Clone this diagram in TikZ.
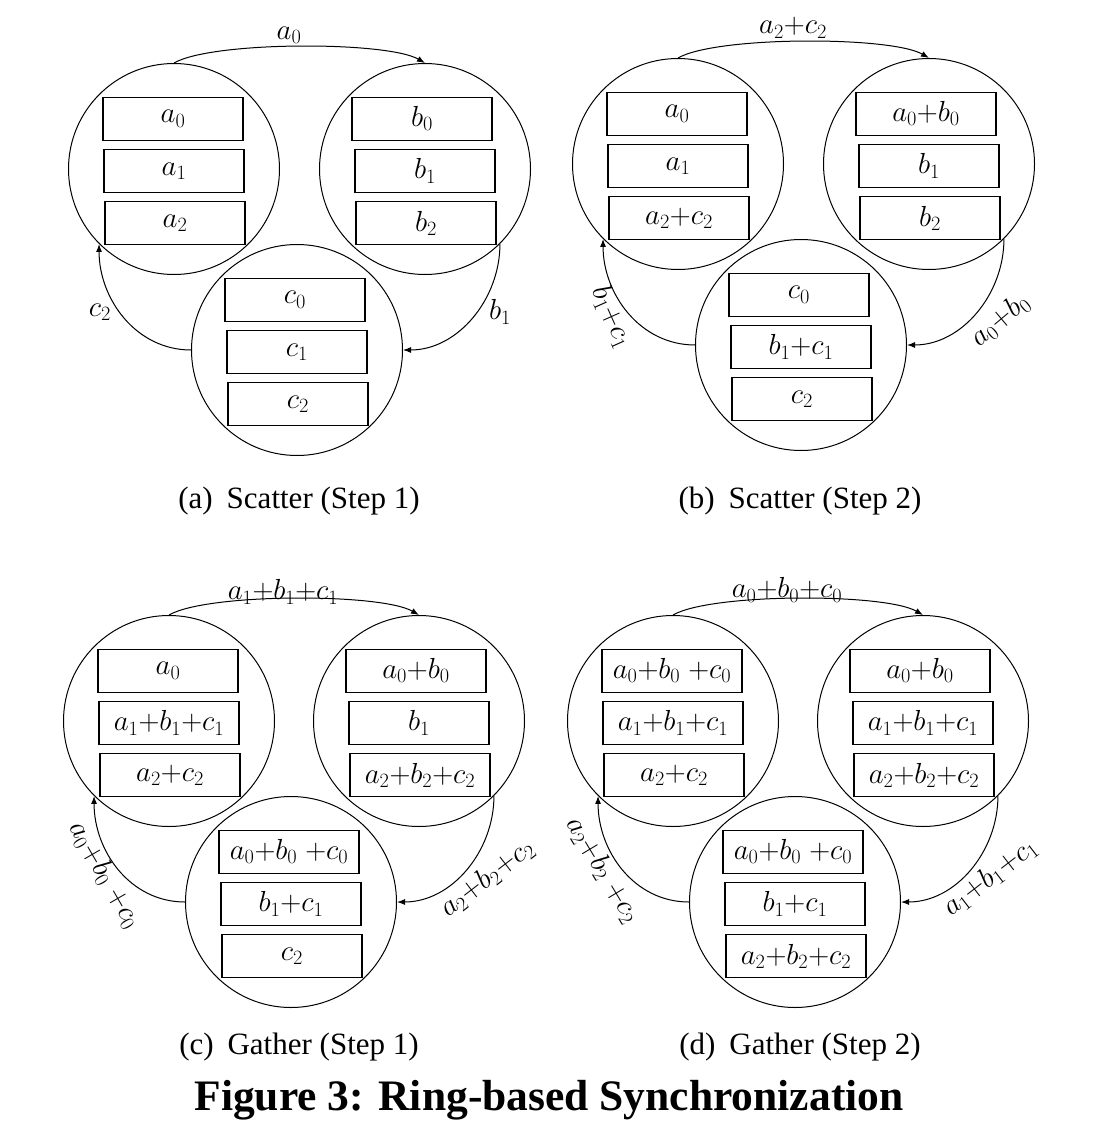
\RequirePackage{fix-cm}
\documentclass[tikz,border=0pt]{standalone}
\usepackage[no-math]{fontspec}
\newfontfamily\capfont{Liberation Serif}
\usetikzlibrary{positioning,arrows.meta}
\newcommand{\cellsize}{\fontsize{29}{34}\selectfont}
\begin{document}
\begin{tikzpicture}[x=1pt,y=-1pt,
    worker/.style={draw,circle,line width=1pt,minimum size=211pt,inner sep=0pt},
    cell/.style={draw,rectangle,line width=1.3pt,minimum width=140pt,minimum height=43pt,inner sep=0pt,font=\cellsize},
    flow/.style={-{Latex[length=8pt,width=6pt]},line width=1pt},
    lbl/.style={font=\cellsize,inner sep=0pt},
    subcap/.style={font=\capfont\fontsize{31}{36}\selectfont}]
\useasboundingbox (0,0) rectangle (1100,1124);

% (a) scatter, step 1
\begin{scope}
  \node[worker] (s1A) at (174,169) {};
  \node[worker] (s1B) at (425,169) {};
  \node[worker] (s1C) at (297,350) {};
  \node[cell,yshift=-2pt] (s1A1) at (s1A) {$a_1$};
  \node[cell,above=8pt of s1A1,xshift=-1pt] (s1A0) {$a_0$};
  \node[cell,below=8pt of s1A1,xshift=1pt] (s1A2) {$a_2$};
  \node[cell,yshift=-2pt] (s1B1) at (s1B) {$b_1$};
  \node[cell,above=8pt of s1B1,xshift=-3pt] (s1B0) {$b_0$};
  \node[cell,below=8pt of s1B1,xshift=1pt] (s1B2) {$b_2$};
  \node[cell,yshift=-2pt] (s1C1) at (s1C) {$c_1$};
  \node[cell,above=8pt of s1C1,xshift=-2pt] (s1C0) {$c_0$};
  \node[cell,below=8pt of s1C1,xshift=1pt] (s1C2) {$c_2$};
  \draw[flow] (s1A.north) .. controls +(38,-22) and +(-38,-22) .. (s1B.north);
  \draw[flow] (s1B.south east) .. controls +(0,55) and +(55,0) .. (s1C.east);
  \draw[flow] (s1C.west) .. controls +(-55,0) and +(0,55) .. (s1A.south west);
  \node[lbl] (s1AB) at (289,35) {$a_0$};
  \node[lbl] (s1BC) at (500,312) {$b_1$};
  \node[lbl] (s1CA) at (100,312) {$c_2$};
\end{scope}

% (b) scatter, step 2
\begin{scope}[shift={(504,-5)}]
  \node[worker] (s2A) at (174,169) {};
  \node[worker] (s2B) at (425,169) {};
  \node[worker] (s2C) at (297,350) {};
  \node[cell,yshift=-2pt] (s2A1) at (s2A) {$a_1$};
  \node[cell,above=8pt of s2A1,xshift=-1pt] (s2A0) {$a_0$};
  \node[cell,below=8pt of s2A1,xshift=1pt] (s2A2) {$a_2{+}c_2$};
  \node[cell,yshift=-2pt] (s2B1) at (s2B) {$b_1$};
  \node[cell,above=8pt of s2B1,xshift=-3pt] (s2B0) {$a_0{+}b_0$};
  \node[cell,below=8pt of s2B1,xshift=1pt] (s2B2) {$b_2$};
  \node[cell,yshift=-2pt] (s2C1) at (s2C) {$b_1{+}c_1$};
  \node[cell,above=8pt of s2C1,xshift=-2pt] (s2C0) {$c_0$};
  \node[cell,below=8pt of s2C1,xshift=1pt] (s2C2) {$c_2$};
  \draw[flow] (s2A.north) .. controls +(38,-22) and +(-38,-22) .. (s2B.north);
  \draw[flow] (s2B.south east) .. controls +(0,55) and +(55,0) .. (s2C.east);
  \draw[flow] (s2C.west) .. controls +(-55,0) and +(0,55) .. (s2A.south west);
  \node[lbl] (s2AB) at (289,33) {$a_2{+}c_2$};
  \node[lbl,rotate=40] (s2BC) at (496,325) {$a_0{+}b_0$};
  \node[lbl,rotate=-66] (s2CA) at (108,322) {$b_1{+}c_1$};
\end{scope}

% (c) gather, step 1
\begin{scope}[shift={(-5,552)}]
  \node[worker] (g1A) at (174,169) {};
  \node[worker] (g1B) at (424,169) {};
  \node[worker] (g1C) at (296,350) {};
  \node[cell,yshift=-2pt] (g1A1) at (g1A) {$a_1{+}b_1{+}c_1$};
  \node[cell,above=8pt of g1A1,xshift=-1pt] (g1A0) {$a_0$};
  \node[cell,below=8pt of g1A1,xshift=1pt] (g1A2) {$a_2{+}c_2$};
  \node[cell,yshift=-2pt] (g1B1) at (g1B) {$b_1$};
  \node[cell,above=8pt of g1B1,xshift=-3pt] (g1B0) {$a_0{+}b_0$};
  \node[cell,below=8pt of g1B1,xshift=1pt] (g1B2) {$a_2{+}b_2{+}c_2$};
  \node[cell,yshift=-2pt] (g1C1) at (g1C) {$b_1{+}c_1$};
  \node[cell,above=8pt of g1C1,xshift=-2pt] (g1C0) {$a_0{+}b_0\;{+}c_0$};
  \node[cell,below=8pt of g1C1,xshift=1pt] (g1C2) {$c_2$};
  \draw[flow] (g1A.north) .. controls +(38,-22) and +(-38,-22) .. (g1B.north);
  \draw[flow] (g1B.south east) .. controls +(0,55) and +(55,0) .. (g1C.east);
  \draw[flow] (g1C.west) .. controls +(-55,0) and +(0,55) .. (g1A.south west);
  \node[lbl] (g1AB) at (288,40) {$a_1{+}b_1{+}c_1$};
  \node[lbl,rotate=37.6] (g1BC) at (492,326) {$a_2{+}b_2{+}c_2$};
  \node[lbl,rotate=-60] (g1CA) at (110,323) {$a_0{+}b_0\;{+}c_0$};
\end{scope}

% (d) gather, step 2
\begin{scope}[shift={(499,552)}]
  \node[worker] (g2A) at (174,169) {};
  \node[worker] (g2B) at (424,169) {};
  \node[worker] (g2C) at (296,350) {};
  \node[cell,yshift=-2pt] (g2A1) at (g2A) {$a_1{+}b_1{+}c_1$};
  \node[cell,above=8pt of g2A1,xshift=-1pt] (g2A0) {$a_0{+}b_0\;{+}c_0$};
  \node[cell,below=8pt of g2A1,xshift=1pt] (g2A2) {$a_2{+}c_2$};
  \node[cell,yshift=-2pt] (g2B1) at (g2B) {$a_1{+}b_1{+}c_1$};
  \node[cell,above=8pt of g2B1,xshift=-3pt] (g2B0) {$a_0{+}b_0$};
  \node[cell,below=8pt of g2B1,xshift=1pt] (g2B2) {$a_2{+}b_2{+}c_2$};
  \node[cell,yshift=-2pt] (g2C1) at (g2C) {$b_1{+}c_1$};
  \node[cell,above=8pt of g2C1,xshift=-2pt] (g2C0) {$a_0{+}b_0\;{+}c_0$};
  \node[cell,below=8pt of g2C1,xshift=1pt] (g2C2) {$a_2{+}b_2{+}c_2$};
  \draw[flow] (g2A.north) .. controls +(38,-22) and +(-38,-22) .. (g2B.north);
  \draw[flow] (g2B.south east) .. controls +(0,55) and +(55,0) .. (g2C.east);
  \draw[flow] (g2C.west) .. controls +(-55,0) and +(0,55) .. (g2A.south west);
  \node[lbl] (g2AB) at (288,38) {$a_0{+}b_0{+}c_0$};
  \node[lbl,rotate=37.6] (g2BC) at (491,325) {$a_1{+}b_1{+}c_1$};
  \node[lbl,rotate=-59] (g2CA) at (104,318) {$a_2{+}b_2\;{+}c_2$};
\end{scope}

% captions
\node[subcap] (capa) at (299,501) {(a)\hspace{.45em}Scatter (Step 1)};
\node[subcap] (capb) at (800,501) {(b)\hspace{.45em}Scatter (Step 2)};
\node[subcap] (capc) at (299,1047) {(c)\hspace{.45em}Gather (Step 1)};
\node[subcap] (capd) at (800,1047) {(d)\hspace{.45em}Gather (Step 2)};
\node[font=\capfont\bfseries\fontsize{43.5}{50}\selectfont] (title) at (549,1100) {Figure 3: Ring-based Synchronization};
\end{tikzpicture}
\end{document}
